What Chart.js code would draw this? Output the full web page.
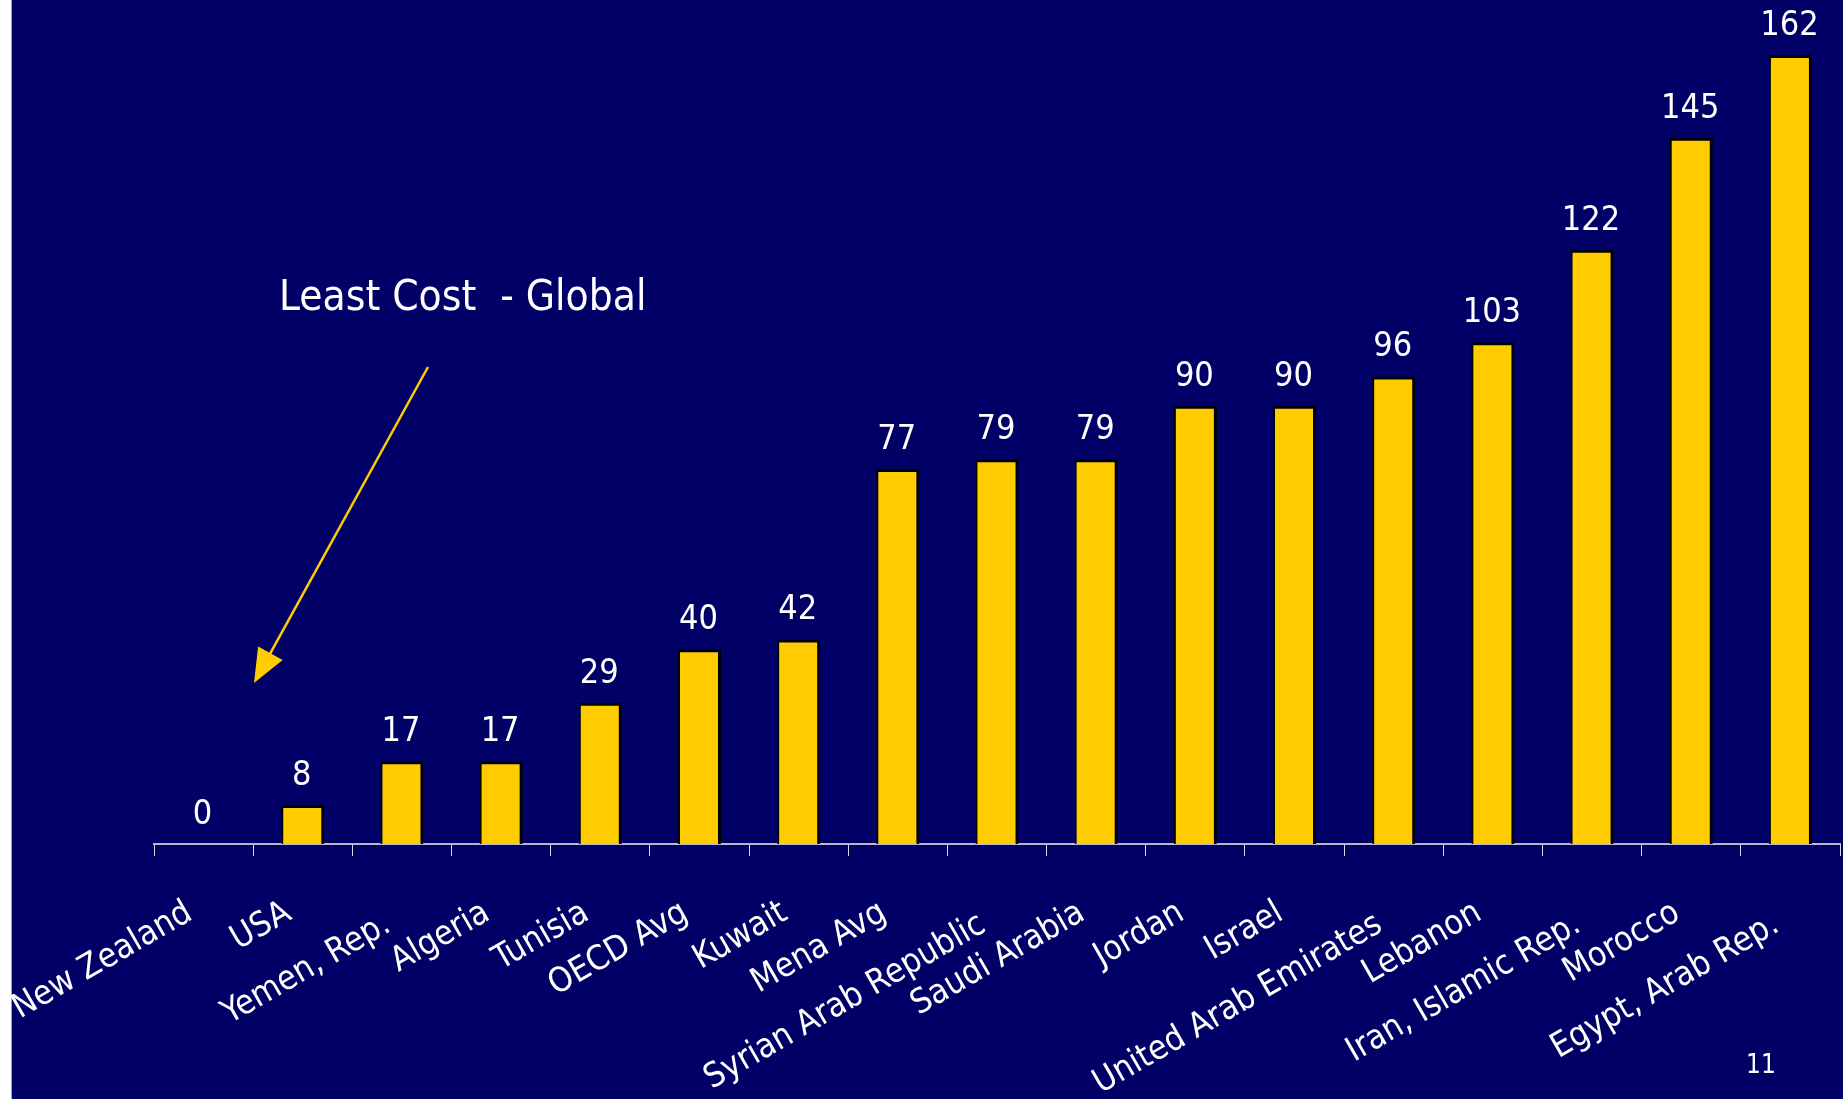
<!DOCTYPE html>
<html>
<head>
<meta charset="utf-8">
<script src="https://cdn.jsdelivr.net/npm/chart.js@4"></script>
<style>
  html, body { margin: 0; padding: 0; background: #ffffff; overflow: hidden; }
  #wrap { width: 1843px; height: 1099px; }
</style>
</head>
<body>
<div id="wrap"><canvas id="c" width="1843" height="1099"></canvas></div>
<script>
const categories = ["New Zealand", "USA", "Yemen, Rep.", "Algeria", "Tunisia", "OECD Avg", "Kuwait", "Mena Avg",
  "Syrian Arab Republic", "Saudi Arabia", "Jordan", "Israel", "United Arab Emirates", "Lebanon",
  "Iran, Islamic Rep.", "Morocco", "Egypt, Arab Rep."];
const values = [0, 8, 17, 17, 29, 40, 42, 77, 79, 79, 90, 90, 96, 103, 122, 145, 162];
const loweredLabels = ["Yemen, Rep.", "Syrian Arab Republic", "United Arab Emirates", "Iran, Islamic Rep.", "Egypt, Arab Rep."];
const annotationText = "Least Cost  - Global";
const pageNumber = "11";

const NAVY = "#000066";
const GOLD = "#FFCC00";
const FONT = "'DejaVu Sans Condensed', 'DejaVu Sans', sans-serif";

const backgroundPlugin = {
  id: "bg",
  beforeDraw(chart) {
    const ctx = chart.ctx;
    ctx.save();
    ctx.fillStyle = "#ffffff";
    ctx.fillRect(0, 0, chart.width, chart.height);
    ctx.fillStyle = NAVY;
    ctx.fillRect(12, 0, chart.width - 12, chart.height);
    ctx.fillStyle = "#a0a0b0";
    ctx.fillRect(11, 0, 1, chart.height);
    ctx.restore();
  }
};

const valueLabelPlugin = {
  id: "valueLabels",
  afterDatasetsDraw(chart) {
    const ctx = chart.ctx;
    const meta = chart.getDatasetMeta(0);
    ctx.save();
    ctx.fillStyle = "#ffffff";
    ctx.font = "34px " + FONT;
    ctx.textAlign = "center";
    ctx.textBaseline = "alphabetic";
    meta.data.forEach((el, i) => {
      ctx.fillText(String(values[i]), el.x - 1, el.y - 20);
    });
    ctx.restore();
  }
};

const annotationPlugin = {
  id: "annotation",
  afterDraw(chart) {
    const ctx = chart.ctx;
    ctx.save();
    ctx.fillStyle = "#ffffff";
    ctx.font = "42px " + FONT;
    ctx.textAlign = "left";
    ctx.textBaseline = "alphabetic";
    ctx.fillText(annotationText, 279, 310);

    // arrow
    const x0 = 428, y0 = 367, x1 = 254, y1 = 683;
    const dx = x1 - x0, dy = y1 - y0, len = Math.hypot(dx, dy);
    const ux = dx / len, uy = dy / len;
    const headLen = 34, halfW = 14;
    const bx = x1 - ux * headLen, by = y1 - uy * headLen;
    ctx.strokeStyle = GOLD;
    ctx.lineWidth = 2.5;
    ctx.beginPath();
    ctx.moveTo(x0, y0);
    ctx.lineTo(bx + ux * 4, by + uy * 4);
    ctx.stroke();
    ctx.fillStyle = GOLD;
    ctx.beginPath();
    ctx.moveTo(x1, y1);
    ctx.lineTo(bx - uy * halfW, by + ux * halfW);
    ctx.lineTo(bx + uy * halfW, by - ux * halfW);
    ctx.closePath();
    ctx.fill();

    // page number
    ctx.fillStyle = "#ffffff";
    ctx.font = "26px " + FONT;
    ctx.textAlign = "center";
    ctx.fillText(pageNumber, 1761, 1073);
    ctx.restore();
  }
};

new Chart(document.getElementById("c"), {
  type: "bar",
  data: {
    labels: categories,
    datasets: [{
      data: values,
      backgroundColor: GOLD,
      borderColor: "#000000",
      borderWidth: { top: 3, left: 2, right: 3, bottom: 0 },
      borderSkipped: "start",
      categoryPercentage: 1,
      barPercentage: 0.434
    }]
  },
  options: {
    responsive: false,
    devicePixelRatio: 1,
    animation: false,
    layout: { padding: { left: 154, right: 3, top: 16, bottom: 0 } },
    plugins: { legend: { display: false }, tooltip: { enabled: false } },
    scales: {
      x: {
        grid: {
          display: true,
          offset: true,
          drawOnChartArea: false,
          drawTicks: true,
          tickLength: 12,
          color: "#d8d8e0",
          lineWidth: 1
        },
        border: { display: true, color: "#b8b8c8", width: 2 },
        ticks: {
          autoSkip: false,
          minRotation: 30,
          maxRotation: 30,
          padding: 37,
          labelOffset: -14,
          color: "#ffffff",
          font: (ctx) => ({
            family: FONT,
            size: 34,
            lineHeight: loweredLabels.includes(categories[ctx.index]) ? 2.0 : 1.2
          })
        },
        afterFit(scale) {
          scale.height = 255;
          scale.paddingLeft = 0;
          scale.paddingRight = 0;
        }
      },
      y: {
        display: false,
        min: 0,
        max: 170
      }
    }
  },
  plugins: [backgroundPlugin, valueLabelPlugin, annotationPlugin]
});
</script>
</body>
</html>
